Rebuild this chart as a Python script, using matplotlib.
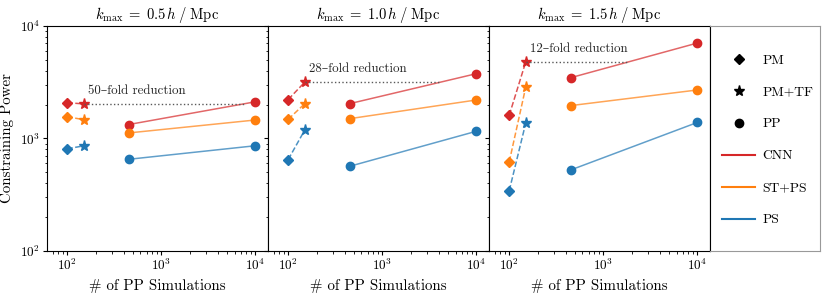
import matplotlib
matplotlib.use("Agg")
import matplotlib.pyplot as plt
from matplotlib.lines import Line2D

plt.rcParams["font.family"] = ["cmr10", "DejaVu Serif"]
plt.rcParams["mathtext.fontset"] = "cm"
plt.rcParams["axes.formatter.use_mathtext"] = True
plt.rcParams["axes.unicode_minus"] = False

# ── data ──────────────────────────────────────────────
titles = [r"$k_\mathrm{max}\;=\;0.5\,h\;/\;\mathrm{Mpc}$",
          r"$k_\mathrm{max}\;=\;1.0\,h\;/\;\mathrm{Mpc}$",
          r"$k_\mathrm{max}\;=\;1.5\,h\;/\;\mathrm{Mpc}$"]
methods = ["CNN", "ST+PS", "PS"]
colors = ["#d62728", "#ff7f0e", "#1f77b4"]

n_pm = [100, 150]          # PM, PM+TF
n_pp = [450, 10000]        # PP

# per panel, per method (CNN, ST+PS, PS): [PM, PM+TF]
pm_vals = [
    [[2080, 2030], [1560, 1470], [810, 860]],
    [[2220, 3170], [1480, 2040], [650, 1190]],
    [[1610, 4820], [620, 2880], [344, 1380]],
]
# per panel, per method: [PP 450, PP 10^4]
pp_vals = [
    [[1330, 2120], [1120, 1460], [653, 862]],
    [[2040, 3770], [1500, 2200], [566, 1160]],
    [[3470, 7060], [1960, 2700], [525, 1390]],
]
fold = [50, 28, 12]

# ── figure ────────────────────────────────────────────
fig = plt.figure(figsize=(8.3, 2.97), dpi=100)
left, bottom, w, h = 0.0566, 0.155, 0.2663, 0.7575
axes = []
for i in range(3):
    ax = fig.add_axes([left + i * w, bottom, w, h],
                      sharey=axes[0] if axes else None)
    axes.append(ax)

for i, ax in enumerate(axes):
    for j in range(3):
        ax.plot(n_pm, pm_vals[i][j], "--", color=colors[j], alpha=0.8, lw=1.1)
        ax.plot(n_pm[0], pm_vals[i][j][0], "D", color=colors[j], ms=5)
        ax.plot(n_pm[1], pm_vals[i][j][1], "*", color=colors[j], ms=8)
        ax.plot(n_pp, pp_vals[i][j], "-", color=colors[j], alpha=0.7, lw=1.1)
        ax.plot(n_pp, pp_vals[i][j], "o", color=colors[j], ms=6)
    # fold reduction marker
    star = pm_vals[i][0][1]
    ax.plot([n_pm[1], n_pm[1] * fold[i]], [star, star], ":", color="0.35", lw=1)
    ax.annotate(f"{fold[i]}–fold reduction", xy=(n_pm[1], star),
                xytext=(3, 5), textcoords="offset points",
                fontsize=9.3, color="0.15", va="bottom", ha="left")

    ax.set_xscale("log")
    ax.set_yscale("log")
    ax.set_xlim(61, 1.36e4)
    ax.set_ylim(1e2, 1e4)
    ax.set_title(titles[i], fontsize=10.5, pad=5)
    ax.set_xlabel("# of PP Simulations", fontsize=10.8)
    ax.tick_params(which="major", length=3, labelsize=9.5, pad=2)
    ax.tick_params(which="minor", length=1.8)
    if i > 0:
        ax.tick_params(labelleft=False)

axes[0].set_ylabel("Constraining Power", fontsize=10.8)

# legend panel
lax = fig.add_axes([left + 3 * w, bottom, 0.1325, h])
lax.set_xticks([])
lax.set_yticks([])
for s in ["top", "right", "bottom"]:
    lax.spines[s].set_color("0.6")
handles = [
    Line2D([], [], ls="", marker="D", color="k", ms=5),
    Line2D([], [], ls="", marker="*", color="k", ms=8),
    Line2D([], [], ls="", marker="o", color="k", ms=6),
] + [Line2D([], [], color=c, lw=1.5) for c in colors]
labels = ["PM", "PM+TF", "PP"] + methods
lax.legend(handles, labels, loc="upper left", bbox_to_anchor=(0.0, 0.93),
           frameon=False, fontsize=9.8, labelspacing=1.43,
           handlelength=2.4, handletextpad=0.55)

fig.savefig("out.png", dpi=100)
